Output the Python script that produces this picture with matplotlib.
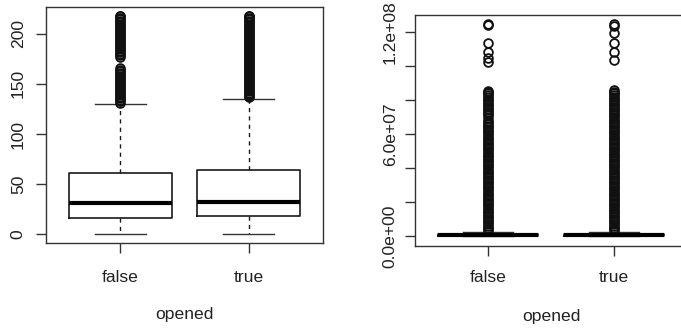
import numpy as np
import matplotlib
matplotlib.use("Agg")
import matplotlib.pyplot as plt

plt.rcParams['font.family'] = ['Liberation Sans', 'DejaVu Sans']

categories = ["false", "true"]
xlabel = "opened"

# Left panel: box statistics
left_q1 = [16.7, 18.4]
left_med = [31.2, 32.2]
left_q3 = [61.3, 64.6]
left_whislo = [0, 0]
left_whishi = [129.6, 135.3]
left_fliers_false = [131, 132.5, 134, 135.5, 137, 138.5, 140, 141.5, 143, 144.5, 146, 147.5,
                     149, 150.5, 152, 153.5, 155, 156.5, 158, 159.5, 161, 162.5, 164, 165.5,
                     177, 178.5, 180, 181.5, 183, 184.5, 186, 187.5, 189, 190.5, 192, 193.5,
                     195, 196.5, 198, 199.5, 201, 202.5, 204, 205.5, 207, 208.5, 210, 211.5,
                     213, 214.5, 216, 217.5, 218]
left_fliers_true = [136.5, 138, 139.5, 141, 142.5, 144, 145.5, 147, 148.5, 150, 151.5, 153,
                    154.5, 156, 157.5, 159, 160.5, 162, 163.5, 165, 166.5, 168, 169.5, 171,
                    172.5, 174, 175.5, 177, 178.5, 180, 181.5, 183, 184.5, 186, 187.5, 189,
                    190.5, 192, 193.5, 195, 196.5, 198, 199.5, 201, 202.5, 204, 205.5, 207,
                    208.5, 210, 211.5, 213, 214.5, 216, 217.5, 218]
left_yticks = [0, 50, 100, 150, 200]

# Right panel: box statistics in millions
right_q1_m = [0.1, 0.1]
right_med_m = [0.5, 0.4]
right_q3_m = [1.2, 1.1]
right_whislo_m = [0, 0]
right_whishi_m = [2.5, 2.4]
right_fliers_false_m = [3, 4, 5, 6, 7, 8, 9, 10, 11, 12, 13, 14, 15, 16, 17, 18, 19, 20,
                        21, 22, 23, 24, 25, 26, 27, 28, 29, 30, 31, 32, 33, 34, 35, 36, 37,
                        38, 39, 40, 41, 42, 43, 44, 45, 46, 47, 48, 49, 50, 51, 52, 53, 54,
                        55, 56, 57, 58, 59, 60, 61, 62, 63, 64, 65, 66, 67, 68, 69.5, 71,
                        72, 73, 74, 75, 76, 77, 78, 79, 80, 81, 82, 83, 84, 85, 85.6,
                        102.7, 104.7, 108.6, 113.5, 124.3, 124.7]
right_fliers_true_m = [3, 4, 5, 6, 7, 8, 9, 10, 11, 12, 13, 14, 15, 16, 17, 18, 19, 20,
                       21, 22, 23, 24, 25, 26, 27, 28, 29, 30, 31, 32, 33, 34, 35, 36, 37,
                       38, 39, 40, 41, 42, 43, 44, 45, 46, 47, 48, 49, 50, 51, 52, 53, 54,
                       55, 56, 57, 58, 59, 60, 61, 62, 63, 64, 65, 66, 67, 68, 69, 70, 71,
                       72, 73, 74, 75, 76, 77, 78, 79, 80, 81, 82, 83, 84, 85, 86,
                       103.7, 108.6, 113.5, 119.4, 123.5, 124.9]
right_yticks = [0, 2e7, 4e7, 6e7, 8e7, 1e8, 1.2e8]
right_yticklabels = ["0.0e+00", "", "", "6.0e+07", "", "", "1.2e+08"]

LC = '#1a1a1a'
FS = 12.6

fig = plt.figure(figsize=(6.81, 3.33), dpi=100)
axL = fig.add_axes([0.0675, 0.2703, 0.4068, 0.7087])
axR = fig.add_axes([0.6094, 0.2622, 0.3994, 0.6928])


def draw(ax, stats, ylim):
    ax.bxp(stats, positions=[1, 2], widths=0.8, patch_artist=False,
           boxprops=dict(color=LC, linewidth=1.2),
           whiskerprops=dict(color=LC, linewidth=1.0, linestyle=(0, (3, 3))),
           capprops=dict(color='#333333', linewidth=1.0),
           medianprops=dict(color='black', linewidth=3.0, solid_capstyle='butt'),
           flierprops=dict(marker='o', markerfacecolor='none', markeredgecolor='#111111',
                           markersize=6.3, markeredgewidth=1.3, linestyle='none'))
    ax.set_xlim(0.42, 2.58)
    ax.set_ylim(*ylim)
    ax.set_xticks([1, 2])
    ax.set_xticklabels(categories, fontsize=FS)
    for s in ax.spines.values():
        s.set_color('#333333')
        s.set_linewidth(1.0)
    ax.tick_params(axis='both', colors='#333333', labelcolor='#222222', length=7.5, width=1.0)
    ax.set_xlabel(xlabel, fontsize=FS, color='#222222')


statsL = []
fl = [left_fliers_false, left_fliers_true]
for i, c in enumerate(categories):
    statsL.append(dict(q1=left_q1[i], med=left_med[i], q3=left_q3[i],
                       whislo=left_whislo[i], whishi=left_whishi[i],
                       fliers=fl[i], label=c))
draw(axL, statsL, (-8.7, 226.7))
axL.set_yticks(left_yticks)
axL.set_yticklabels([str(v) for v in left_yticks], fontsize=FS, rotation=90, va='center')
axL.tick_params(axis='y', pad=7)
axL.tick_params(axis='x', pad=12)
axL.xaxis.set_label_coords(0.5, -0.27)

statsR = []
flr = [right_fliers_false_m, right_fliers_true_m]
for i, c in enumerate(categories):
    statsR.append(dict(q1=right_q1_m[i] * 1e6, med=right_med_m[i] * 1e6, q3=right_q3_m[i] * 1e6,
                       whislo=right_whislo_m[i] * 1e6, whishi=right_whishi_m[i] * 1e6,
                       fliers=np.array(flr[i]) * 1e6, label=c))
draw(axR, statsR, (-5.7e6, 1.302e8))
axR.set_yticks(right_yticks)
axR.set_yticklabels(right_yticklabels, fontsize=FS, rotation=90, va='center')
axR.tick_params(axis='y', pad=5)
axR.tick_params(axis='x', pad=10)
axR.xaxis.set_label_coords(0.5, -0.275)

fig.savefig('out.png', dpi=100)
